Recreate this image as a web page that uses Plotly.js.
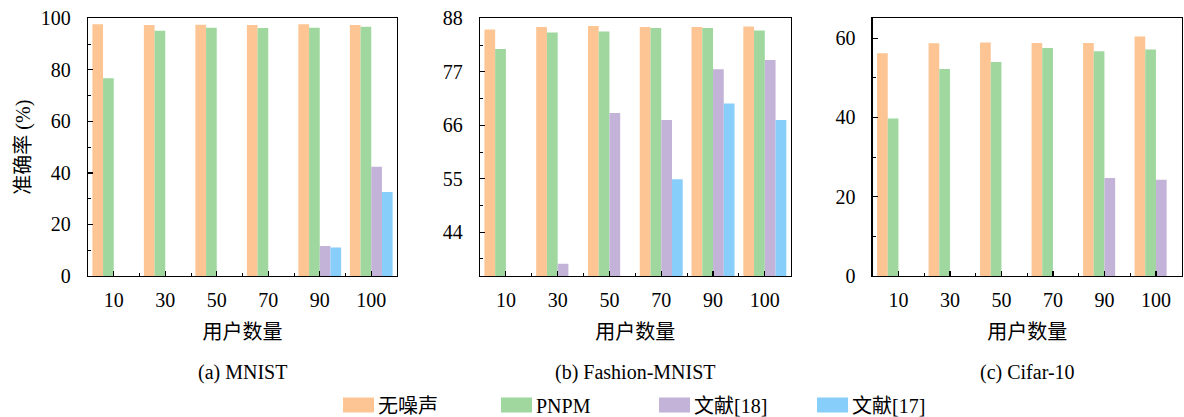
<!DOCTYPE html>
<html>
<head>
<meta charset="utf-8">
<script src="https://cdn.plot.ly/plotly-3.0.1.min.js"></script>
<style>html,body{margin:0;padding:0;background:#fff;}#chart{width:1184px;height:417px;}</style>
</head>
<body>
<div id="chart"></div>
<script>
// ---- data ----
const users = [10, 30, 50, 70, 90, 100];
const seriesNames = ['无噪声', 'PNPM', '文献[18]', '文献[17]'];
const panelCaptions = ['(a) MNIST', '(b) Fashion-MNIST', '(c) Cifar-10'];
const xTitle = '用户数量';
const yTitle = '准确率 (%)';

const mnistNoNoise = [97.7, 97.4, 97.5, 97.4, 97.7, 97.4];
const mnistPNPM    = [76.7, 95.2, 96.3, 96.2, 96.3, 96.7];
const mnistRef18   = [null, null, null, null, 11.6, 42.4];
const mnistRef17   = [null, null, null, null, 11.1, 32.6];

const fashionNoNoise = [85.7, 86.2, 86.4, 86.2, 86.2, 86.3];
const fashionPNPM    = [81.7, 85.1, 85.3, 86.0, 86.0, 85.5];
const fashionRef18   = [null, 37.5, 68.5, 67.1, 77.5, 79.4];
const fashionRef17   = [null, null, null, 54.9, 70.5, 67.1];

const cifarNoNoise = [56.2, 58.7, 58.9, 58.8, 58.8, 60.4];
const cifarPNPM    = [39.7, 52.2, 54.0, 57.5, 56.7, 57.1];
const cifarRef18   = [null, null, null, null, 24.7, 24.3];
const cifarRef17   = [null, null, null, null, null, null];

// ---- styles ----
const colors = ['#FDC593', '#9FD79F', '#C3B3D8', '#87CEFA'];
const FONT = '"Liberation Serif", "Noto Sans CJK SC", serif';
const FS = 20;

const panels = [
  {series: [mnistNoNoise, mnistPNPM, mnistRef18, mnistRef17], range: [0, 100], dtick: 20, minor: 10, tick0: 0},
  {series: [fashionNoNoise, fashionPNPM, fashionRef18, fashionRef17], range: [35, 88], dtick: 11, minor: 5.5, tick0: 0},
  {series: [cifarNoNoise, cifarPNPM, cifarRef18, cifarRef17], range: [0, 65], dtick: 20, minor: 10, tick0: 0}
];

const W = 1184, H = 417;
const xDomains = [[88 / W, 397 / W], [480 / W, 790.7 / W], [872.7 / W, 1181.7 / W]];
const yDomain = [1 - 276 / H, 1 - 18.3 / H];

const xIdx = users.map((_, i) => i);
const minorX = users.slice(1).map((_, i) => i + 0.5);

const traces = [];
const layout = {
  width: W, height: H,
  margin: {l: 0, r: 0, t: 0, b: 0, autoexpand: false},
  paper_bgcolor: '#fff', plot_bgcolor: '#fff',
  font: {family: FONT, size: FS, color: '#000'},
  barmode: 'group', bargap: 0.17, bargroupgap: 0,
  showlegend: true,
  legend: {orientation: 'h', x: 338 / W, xanchor: 'left', y: 1 - 405 / H, yanchor: 'middle',
           font: {family: FONT, size: FS}, itemclick: false, traceorder: 'normal',
           entrywidth: 113, entrywidthmode: 'pixels'},
  annotations: []
};

panels.forEach((p, pi) => {
  const sfx = pi === 0 ? '' : String(pi + 1);
  p.series.forEach((vals, si) => {
    traces.push({
      type: 'bar', x: xIdx, y: vals, name: seriesNames[si],
      xaxis: 'x' + sfx, yaxis: 'y' + sfx,
      marker: {color: colors[si], line: {width: 0}},
      showlegend: pi === 0, legendgroup: seriesNames[si],
      hoverinfo: 'skip'
    });
  });
  layout['xaxis' + sfx] = {
    domain: xDomains[pi], anchor: 'y' + sfx,
    range: [-0.5, users.length - 0.5],
    tickmode: 'array', tickvals: xIdx, ticktext: users.map(String),
    ticks: 'inside', ticklen: 5, tickwidth: 1.2, tickcolor: '#000',
    minor: {tickmode: 'array', tickvals: minorX, ticks: 'inside', ticklen: 3, tickwidth: 1, tickcolor: '#000'},
    showline: true, linecolor: '#000', linewidth: 1.3, mirror: true,
    showgrid: false, zeroline: false, automargin: false,
    ticklabelstandoff: 6,
    tickfont: {family: FONT, size: FS},
    title: {text: xTitle, font: {family: FONT, size: FS}, standoff: 14}
  };
  layout['yaxis' + sfx] = {
    domain: yDomain, anchor: 'x' + sfx,
    range: p.range, tick0: p.tick0, dtick: p.dtick, tickmode: 'linear',
    ticks: 'inside', ticklen: 5, tickwidth: 1.2, tickcolor: '#000',
    minor: {tick0: p.tick0, dtick: p.minor, ticks: 'inside', ticklen: 3, tickwidth: 1, tickcolor: '#000'},
    showline: true, linecolor: '#000', linewidth: 1.3, mirror: true,
    showgrid: false, zeroline: false, automargin: false,
    ticklabelstandoff: 12,
    tickfont: {family: FONT, size: FS}
  };
  if (pi === 0) {
    layout.yaxis.title = {text: yTitle, font: {family: FONT, size: FS}, standoff: 4};
  }
  layout.annotations.push({
    text: panelCaptions[pi], xref: 'paper', yref: 'paper',
    x: (xDomains[pi][0] + xDomains[pi][1]) / 2, y: 1 - 372 / H,
    xanchor: 'center', yanchor: 'middle', showarrow: false,
    font: {family: FONT, size: FS}
  });
});

Plotly.newPlot('chart', traces, layout, {staticPlot: true, displayModeBar: false}).then(gd => {
  // widen legend patches to match the reference's rectangular swatches
  gd.querySelectorAll('.legend .legendpoints path').forEach(el => {
    el.setAttribute('d', 'M-15,-7.5H16V7.5H-15Z');
  });
});
</script>
</body>
</html>
